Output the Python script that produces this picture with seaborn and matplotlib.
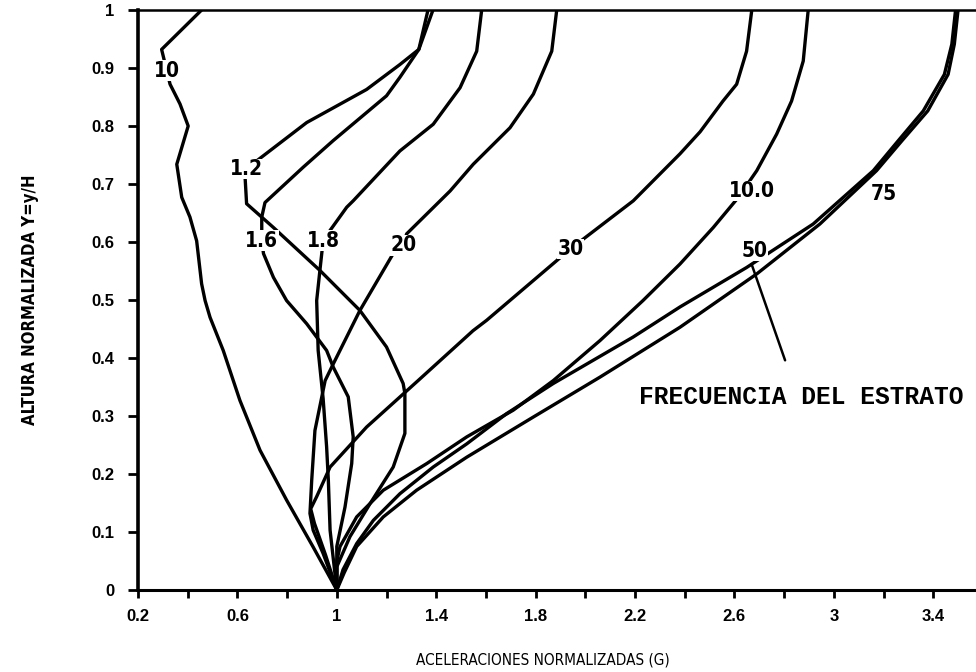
import os
import matplotlib
matplotlib.use("Agg")
import matplotlib.pyplot as plt
from matplotlib import font_manager as fm
from matplotlib.font_manager import FontProperties
import numpy as np
import pandas as pd
import seaborn as sns

# Normalised acceleration (G) against normalised height y/H for each layer frequency
acc_10 = [1.0, 0.905, 0.798, 0.691, 0.610, 0.543, 0.490, 0.470, 0.456, 0.436, 0.409,
          0.376, 0.356, 0.402, 0.369, 0.329, 0.295, 0.456]
alt_10 = [0.0, 0.074, 0.155, 0.241, 0.327, 0.413, 0.470, 0.499, 0.528, 0.602, 0.643,
          0.677, 0.734, 0.800, 0.838, 0.872, 0.932, 1.0]

acc_12 = [1.0, 1.0, 1.053, 1.134, 1.227, 1.274, 1.274, 1.267, 1.2, 1.093, 0.932,
          0.745, 0.637, 0.631, 0.678, 0.879, 1.12, 1.254, 1.33, 1.367]
alt_12 = [0.0, 0.04, 0.092, 0.149, 0.212, 0.27, 0.339, 0.356, 0.419, 0.482, 0.551,
          0.625, 0.666, 0.711, 0.740, 0.806, 0.863, 0.906, 0.932, 1.0]

acc_16 = [1.0, 1.0, 1.033, 1.06, 1.066, 1.046, 0.986, 0.959, 0.879, 0.798, 0.745,
          0.705, 0.698, 0.698, 0.711, 0.865, 0.986, 1.2, 1.254, 1.33, 1.387]
alt_16 = [0.0, 0.075, 0.143, 0.218, 0.264, 0.333, 0.384, 0.413, 0.459, 0.499, 0.539,
          0.580, 0.602, 0.643, 0.668, 0.729, 0.775, 0.852, 0.884, 0.932, 1.0]

acc_18 = [1.0, 0.973, 0.966, 0.959, 0.945, 0.925, 0.919, 0.932, 0.945, 0.973, 1.04,
          1.066, 1.254, 1.388, 1.496, 1.563, 1.583]
alt_18 = [0.0, 0.103, 0.189, 0.247, 0.33, 0.413, 0.499, 0.551, 0.602, 0.62, 0.66,
          0.671, 0.757, 0.803, 0.866, 0.929, 1.0]

acc_20 = [1.0, 0.945, 0.905, 0.892, 0.899, 0.912, 0.953, 0.986, 1.093, 1.227, 1.267,
          1.281, 1.456, 1.549, 1.697, 1.791, 1.865, 1.885]
alt_20 = [0.0, 0.063, 0.103, 0.132, 0.189, 0.275, 0.361, 0.39, 0.482, 0.58, 0.594,
          0.614, 0.688, 0.734, 0.797, 0.855, 0.929, 1.0]

acc_30 = [1.0, 0.955, 0.91, 0.895, 0.919, 0.973, 1.12, 1.327, 1.548, 1.603, 1.94,
          2.193, 2.381, 2.462, 2.554, 2.609, 2.649, 2.67]
alt_30 = [0.0, 0.06, 0.115, 0.14, 0.161, 0.212, 0.281, 0.361, 0.447, 0.465, 0.588,
          0.671, 0.752, 0.79, 0.843, 0.872, 0.929, 1.0]

acc_50 = [1.0, 1.025, 1.08, 1.147, 1.254, 1.388, 1.523, 1.683, 1.871, 2.192, 2.381,
          2.649, 2.917, 3.159, 3.26, 3.36, 3.445, 3.475, 3.49]
alt_50 = [0.0, 0.035, 0.08, 0.12, 0.166, 0.212, 0.252, 0.304, 0.356, 0.436, 0.488,
          0.556, 0.631, 0.723, 0.775, 0.826, 0.889, 0.941, 1.0]

acc_75 = [1.0, 1.03, 1.08, 1.187, 1.321, 1.523, 1.79, 2.059, 2.381, 2.69, 2.944,
          3.172, 3.275, 3.378, 3.46, 3.485, 3.5]
alt_75 = [0.0, 0.03, 0.075, 0.126, 0.172, 0.229, 0.298, 0.367, 0.453, 0.545, 0.631,
          0.723, 0.775, 0.826, 0.889, 0.941, 1.0]

acc_100 = [1.0, 1.0, 1.013, 1.08, 1.187, 1.362, 1.523, 1.71, 1.871, 2.059, 2.232,
           2.381, 2.515, 2.616, 2.69, 2.77, 2.83, 2.877, 2.897]
alt_100 = [0.0, 0.05, 0.075, 0.126, 0.172, 0.218, 0.264, 0.31, 0.361, 0.43, 0.499,
           0.562, 0.625, 0.677, 0.723, 0.786, 0.843, 0.912, 1.0]

curve_names = ["10", "1.2", "1.6", "1.8", "20", "30", "50", "75", "10.0"]
curve_acc = [acc_10, acc_12, acc_16, acc_18, acc_20, acc_30, acc_50, acc_75, acc_100]
curve_alt = [alt_10, alt_12, alt_16, alt_18, alt_20, alt_30, alt_50, alt_75, alt_100]

x_ticks = [0.2, 0.4, 0.6, 0.8, 1.0, 1.2, 1.4, 1.6, 1.8, 2.0, 2.2, 2.4, 2.6, 2.8, 3.0, 3.2, 3.4]
x_ticklabels = ["0.2", "", "0.6", "", "1", "", "1.4", "", "1.8", "", "2.2", "", "2.6", "", "3", "", "3.4"]
y_ticks = [0, 0.1, 0.2, 0.3, 0.4, 0.5, 0.6, 0.7, 0.8, 0.9, 1.0]
y_ticklabels = ["0", "0.1", "0.2", "0.3", "0.4", "0.5", "0.6", "0.7", "0.8", "0.9", "1"]

x_title = "ACELERACIONES NORMALIZADAS (G)"
y_title = "ALTURA NORMALIZADA Y=y/H"
note_text = "FRECUENCIA DEL ESTRATO"

# ------------------------------------------------------------------ styling
sns.set_style("white")
plt.rcParams["font.family"] = ["Liberation Sans", "DejaVu Sans"]
for key in ["text.color", "axes.labelcolor", "xtick.color", "ytick.color"]:
    plt.rcParams[key] = "black"


def narrow_font(bold, size):
    """A condensed sans face if one is installed, else Liberation Sans."""
    files = sorted({f.fname for f in fm.fontManager.ttflist})
    prefs = ["liberationsansnarrow", "dejavusanscondensed", "robotocondensed",
             "opensans_condensed", "opensanscondensed"]
    for pref in prefs:
        for path in files:
            base = os.path.basename(path).lower().replace("-", "").replace(" ", "")
            if not base.startswith(pref):
                continue
            is_bold = "bold" in base and "semibold" not in base
            if "italic" in base or "oblique" in base:
                continue
            if bold == is_bold:
                stem = base.rsplit(".", 1)[0]
                if bold and not stem.endswith("bold"):
                    continue
                if not bold and not (stem == pref or stem.endswith("regular")):
                    continue
                return FontProperties(fname=path, size=size)
    return FontProperties(family="Liberation Sans",
                          weight="bold" if bold else "normal", size=size * 0.85)


frames = [
    pd.DataFrame({"acc": a, "alt": h, "curve": n, "step": np.arange(len(a))})
    for n, a, h in zip(curve_names, curve_acc, curve_alt)
]
df = pd.concat(frames, ignore_index=True)

W, H = 976, 672
fig = plt.figure(figsize=(W / 100, H / 100), dpi=100)
fig.patch.set_facecolor("white")
left_px, right_px, top_px, bottom_px = 138, 976, 10, 590
ax = fig.add_axes([left_px / W, 1 - bottom_px / H,
                   (right_px - left_px) / W, (bottom_px - top_px) / H])

sns.lineplot(data=df, x="acc", y="alt", units="curve", estimator=None, sort=False,
             color="black", lw=2.4, legend=False, ax=ax,
             solid_joinstyle="round", solid_capstyle="round")

ax.set_xlim(0.2, 0.2 + (right_px - left_px) / 248.5)
ax.set_ylim(0, 1)

# curve labels sit on their lines
label_pos = {
    "10": (0.317, 0.895), "1.2": (0.637, 0.726), "1.6": (0.698, 0.602),
    "1.8": (0.945, 0.602), "20": (1.267, 0.594), "30": (1.94, 0.588),
    "10.0": (2.669, 0.688), "50": (2.683, 0.585), "75": (3.2, 0.683),
}
label_font = narrow_font(True, 15)
for name in curve_names:
    lx, ly = label_pos[name]
    ax.text(lx, ly, name, ha="center", va="center", fontproperties=label_font,
            color="black", zorder=5, bbox=dict(fc="white", ec="none", pad=0.3))

# pointer to the layer-frequency note
ax.plot([2.669, 2.804], [0.562, 0.396], color="black", lw=1.8, solid_capstyle="round")
ax.text(2.216, 0.333, note_text, ha="left", va="center", fontsize=17.7,
        fontweight="bold", family=["Liberation Mono", "DejaVu Sans Mono"], color="black")

# axes frame
for side in ["left", "bottom", "top"]:
    ax.spines[side].set_visible(True)
    ax.spines[side].set_color("black")
ax.spines["left"].set_linewidth(2.6)
ax.spines["bottom"].set_linewidth(2.2)
ax.spines["top"].set_linewidth(1.8)
ax.spines["right"].set_visible(False)

ax.set_xticks(x_ticks)
ax.set_xticklabels(x_ticklabels)
ax.set_yticks(y_ticks)
ax.set_yticklabels(y_ticklabels)
ax.tick_params(axis="x", direction="out", length=6, width=2, pad=8, bottom=True,
               labelsize=12)
ax.tick_params(axis="y", direction="out", length=7, width=2, pad=10, left=True,
               labelsize=12)
for lab in ax.get_xticklabels() + ax.get_yticklabels():
    lab.set_fontweight("bold")

ax.set_xlabel(x_title, fontproperties=narrow_font(False, 11), va="center")
ax.xaxis.set_label_coords((543 - left_px) / (right_px - left_px),
                          -(660 - bottom_px) / (bottom_px - top_px))
ax.set_ylabel(y_title, fontproperties=narrow_font(True, 12), va="center")
ax.yaxis.set_label_coords((30 - left_px) / (right_px - left_px),
                          (bottom_px - 300) / (bottom_px - top_px))
ax.grid(False)

fig.savefig("out.png", dpi=100, facecolor="white")
